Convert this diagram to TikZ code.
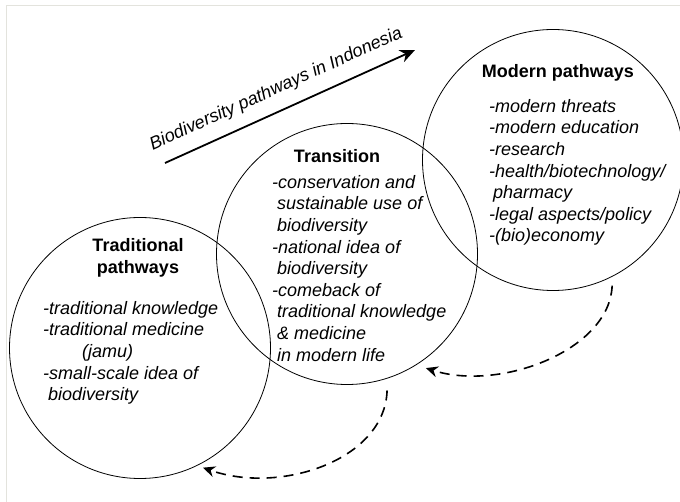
\documentclass[tikz,border=0pt]{standalone}
\usepackage{fontspec}
\setmainfont{Liberation Sans}
\usepackage{xcolor}
\usetikzlibrary{arrows.meta}

\definecolor{framegray}{HTML}{E3E3DD}
\newcommand{\pathfont}{\fontsize{18}{21.6}\selectfont}

\tikzset{
  pathcircle/.style={draw, circle, line width=0.8pt, inner sep=0pt, minimum size=261pt},
  pathtitle/.style={font=\pathfont\bfseries, align=center, inner sep=0pt},
  pathitems/.style={font=\pathfont\itshape, align=left, anchor=north west, inner sep=0pt},
  mainarrow/.style={-{Stealth[length=15pt,width=13pt]}, line width=1.8pt},
  backstep/.style={-{Stealth[length=12pt,width=11pt]}, dash pattern=on 10pt off 7pt, line width=1.6pt},
}

\begin{document}
\begin{tikzpicture}[x=1pt, y=-1pt]
  \useasboundingbox (0,0) rectangle (680,502);
  \draw[framegray, line width=1pt] (6,502) -- (6,6) -- (680,6);

  % circles
  \node[pathcircle] (trad) at (140,348) {};
  \node[pathcircle] (trans) at (347,254) {};
  \node[pathcircle] (modern) at (553,160) {};

  % titles
  \node[pathtitle] (tradtitle) at (138,258) {Traditional\\pathways};
  \node[pathtitle] (transtitle) at (337,156) {Transition};
  \node[pathtitle] (moderntitle) at (558,73) {Modern pathways};

  % items
  \node[pathitems] (traditems) at (43,301) {-traditional knowledge\\-traditional medicine\\\hspace*{39pt}(jamu)\\-small-scale idea of\\\hspace*{5pt}biodiversity};
  \node[pathitems] (transitems) at (272,175) {-conservation and\\\hspace*{5pt}sustainable use of\\\hspace*{5pt}biodiversity\\-national idea of\\\hspace*{5pt}biodiversity\\-comeback of\\\hspace*{5pt}traditional knowledge\\\hspace*{5pt}\& medicine\\\hspace*{5pt}in modern life};
  \node[pathitems] (modernitems) at (489,99) {-modern threats\\-modern education\\-research\\-health/biotechnology/\\\hspace*{4pt}pharmacy\\-legal aspects/policy\\-(bio)economy};

  % direction
  \coordinate (arrowstart) at (165,163);
  \coordinate (arrowend) at (415,50);
  \draw[mainarrow] (arrowstart) -- (arrowend)
    node[pos=0.48, sloped, above=12pt, inner sep=0pt, font=\pathfont\itshape] (arrowlabel) {Biodiversity pathways in Indonesia};

  % dashed returns
  \draw[backstep, shorten <=9pt, shorten >=10pt] (modern.-63) .. controls (610,350) and (500,392) .. (trans.-58);
  \draw[backstep, shorten <=12pt, shorten >=6pt] (trans.-72) .. controls (385,460) and (280,495) .. (trad.-64);
\end{tikzpicture}
\end{document}
